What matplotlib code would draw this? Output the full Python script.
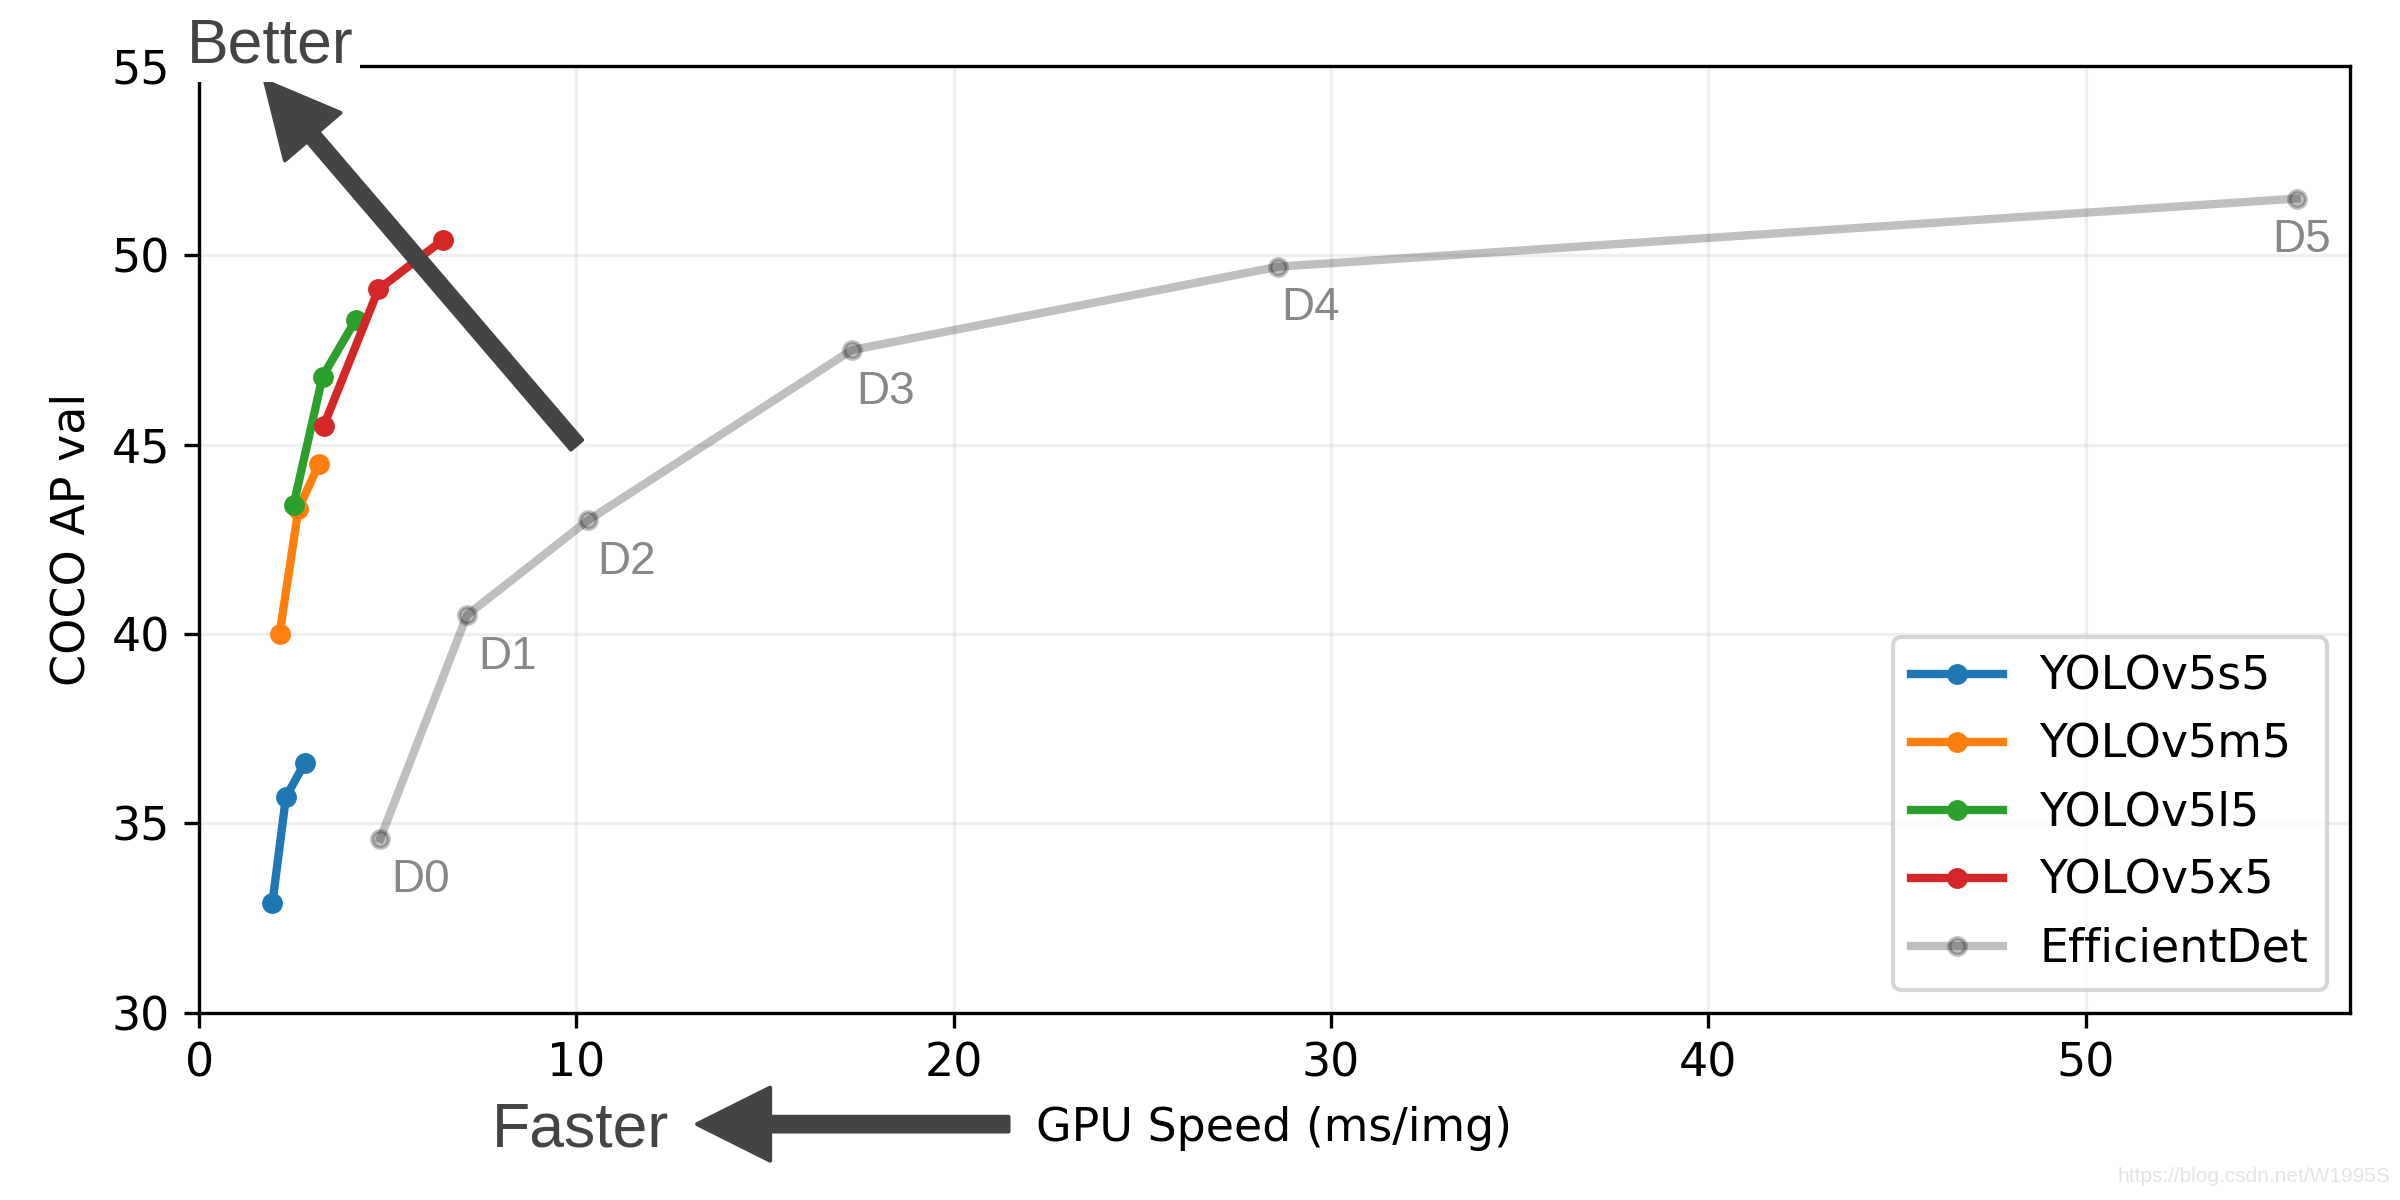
import numpy as np
import matplotlib.pyplot as plt

# GPU speed (ms/img) vs COCO AP val
s5_speed = [1.94, 2.3, 2.8]
s5_ap = [32.9, 35.7, 36.6]
m5_speed = [2.13, 2.63, 3.18]
m5_ap = [40.0, 43.3, 44.5]
l5_speed = [2.5, 3.27, 4.15]
l5_ap = [43.4, 46.8, 48.3]
x5_speed = [3.3, 4.75, 6.45]
x5_ap = [45.5, 49.1, 50.4]
eff_speed = [4.8, 7.1, 10.3, 17.3, 28.6, 55.6]
eff_ap = [34.6, 40.5, 43.0, 47.5, 49.7, 51.5]
eff_labels = ['D0', 'D1', 'D2', 'D3', 'D4', 'D5']

plt.rcParams['font.family'] = ['DejaVu Sans']
plt.rcParams['font.size'] = 11

fig = plt.figure(figsize=(8, 4), dpi=300)
ax = fig.add_axes([0.083, 0.156, 0.896, 0.789])

yolo = [(s5_speed, s5_ap, 'YOLOv5s5'),
        (m5_speed, m5_ap, 'YOLOv5m5'),
        (l5_speed, l5_ap, 'YOLOv5l5'),
        (x5_speed, x5_ap, 'YOLOv5x5')]
for speed, ap, name in yolo:
    ax.plot(speed, ap, '.-', linewidth=2, markersize=8, label=name)

ax.plot(eff_speed, eff_ap, 'k.-', linewidth=2, markersize=8, alpha=.25, label='EfficientDet')

# D0..D5 tags (x offsets in points, last one pulled left so it stays inside)
label_dx = [2.6, 2.6, 2.2, 1.1, 0.7, -5.9]
for x, y, lab, dx in zip(eff_speed, eff_ap, eff_labels, label_dx):
    ax.annotate(lab, (x, y), xytext=(dx, -4.7), textcoords='offset points',
                ha='left', va='top', color='#888888', fontsize=11,
                family='Liberation Sans')

ax.grid(alpha=0.2)
ax.set_xlim(0, 57)
ax.set_ylim(30, 55)
ax.set_xticks(np.arange(0, 51, 10))
ax.set_yticks(np.arange(30, 56, 5))
ax.set_xlabel('GPU Speed (ms/img)', labelpad=4.5)
ax.set_ylabel('COCO AP val')
ax.legend(loc='lower right')

arrow = dict(arrowstyle='simple,head_length=0.5,head_width=0.5,tail_width=0.1',
             mutation_scale=35, color='#444444', shrinkA=0, shrinkB=0)

# "Better" arrow towards the top-left corner
ax.annotate('', xy=(1.75, 54.6), xytext=(10, 45), arrowprops=arrow,
            annotation_clip=False, zorder=4)
ax.text(-0.32, 55.08, 'Better', ha='left', va='baseline', fontsize=15,
        color='#444444', family='Liberation Sans', zorder=10, clip_on=False,
        bbox=dict(boxstyle='square,pad=0.1', fc='white', ec='none'))

# "Faster" arrow under the x axis
ax.annotate('', xy=(13.2, 27.06), xytext=(21.45, 27.06), arrowprops=arrow,
            annotation_clip=False)
ax.text(7.77, 26.46, 'Faster', ha='left', va='baseline', fontsize=15,
        color='#444444', family='Liberation Sans', clip_on=False)

fig.text(0.996, 0.012, 'https://blog.csdn.net/W1995S', ha='right', va='bottom',
         fontsize=5, color='#e4e4e4', family='Liberation Sans')

fig.savefig('out.png', dpi=300, facecolor='white')
plt.close()
